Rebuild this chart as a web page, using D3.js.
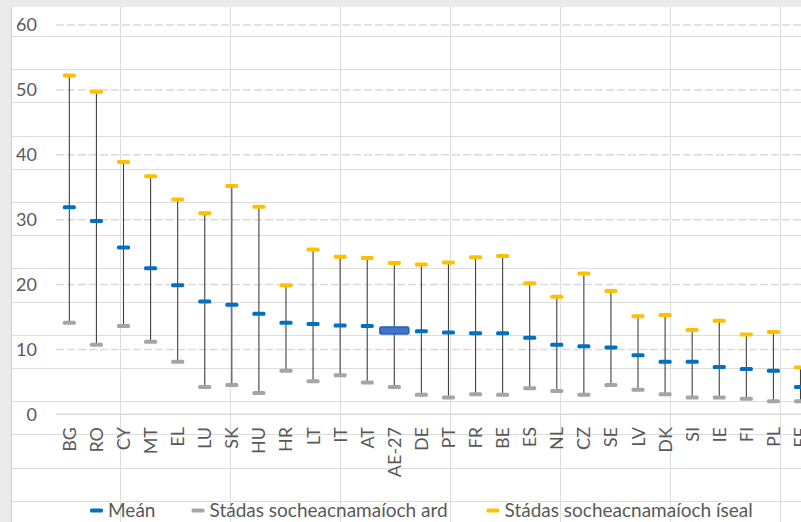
<!DOCTYPE html>
<html><head><meta charset="utf-8">
<script src="https://cdn.jsdelivr.net/npm/d3@7"></script>
<style>body{margin:0;background:#fff;overflow:hidden} svg{display:block;font-family:Lato,"Open Sans",sans-serif}</style>
</head><body><svg id="c" width="801" height="522"></svg>
<script>
const categories = ["BG","RO","CY","MT","EL","LU","SK","HU","HR","LT","IT","AT","AE-27","DE","PT","FR","BE","ES","NL","CZ","SE","LV","DK","SI","IE","FI","PL","EE"];
const meanValues = [31.9,29.8,25.7,22.5,19.9,17.4,16.9,15.5,14.1,13.9,13.7,13.6,12.9,12.8,12.6,12.5,12.5,11.8,10.7,10.5,10.3,9.1,8.1,8.1,7.3,7.0,6.7,4.2];
const highSesValues = [14.1,10.7,13.6,11.2,8.1,4.2,4.5,3.3,6.7,5.1,6.0,4.9,4.2,3.0,2.6,3.1,3.0,4.0,3.6,3.0,4.5,3.8,3.1,2.6,2.6,2.4,2.0,2.0];
const lowSesValues = [52.2,49.7,38.9,36.7,33.1,31.0,35.2,32.0,19.9,25.4,24.3,24.1,23.3,23.1,23.4,24.2,24.4,20.2,18.1,21.7,19.0,15.1,15.3,13.0,14.4,12.3,12.7,7.2];
const yTicks = [0,10,20,30,40,50,60];
const seriesNames = ["Meán","Stádas socheacnamaíoch ard","Stádas socheacnamaíoch íseal"];
const seriesColors = ["#0070C0","#A5A5A5","#FFC000"];
const highlight = "AE-27";

const svg = d3.select("#c");
const W = 801, H = 522;

// spreadsheet background
svg.append("rect").attr("width",W).attr("height",H).attr("fill","#fff");
const bg = svg.append("g");
d3.range(36, H, 33.2).forEach(y=>bg.append("line").attr("x1",11).attr("x2",W).attr("y1",Math.round(y)+0.5).attr("y2",Math.round(y)+0.5).attr("stroke","#dcdcdc"));
d3.range(120.3, W, 110).forEach(x=>bg.append("line").attr("x1",Math.round(x)+0.5).attr("x2",Math.round(x)+0.5).attr("y1",7).attr("y2",H).attr("stroke","#dcdcdc"));
bg.append("rect").attr("x",0).attr("y",0).attr("width",W).attr("height",7).attr("fill","#ebebeb");
bg.append("rect").attr("x",0).attr("y",0).attr("width",11).attr("height",H).attr("fill","#ebebeb");
bg.append("line").attr("x1",11.5).attr("x2",11.5).attr("y1",7).attr("y2",H).attr("stroke","#d0d0d0");

const x = d3.scaleBand().domain(categories).range([55.8, 55.8 + categories.length*27.08]).padding(0);
const y = d3.scaleLinear().domain([0,60]).range([414.3, 25]);

// gridlines
const grid = svg.append("g");
yTicks.filter(t=>t>0).forEach(t=>{
  grid.append("line").attr("x1",56).attr("x2",W).attr("y1",y(t)).attr("y2",y(t))
    .attr("stroke","#d9d9d9").attr("stroke-width",1.5).attr("stroke-dasharray","8,3");
});
grid.append("line").attr("x1",56).attr("x2",W).attr("y1",y(0)).attr("y2",y(0)).attr("stroke","#d9d9d9").attr("stroke-width",1.5);

// y tick labels
const yAxis = d3.axisLeft(y).tickValues(yTicks).tickSize(0).tickPadding(0);
const ya = svg.append("g").attr("transform","translate(37,0)").call(yAxis);
ya.select(".domain").remove();
ya.selectAll("text").attr("fill","#595959").style("font-size","18px").style("font-family","Lato");

// x labels
const xAxis = d3.axisBottom(x).tickSize(0).tickPadding(0);
const xa = svg.append("g").attr("transform","translate(0,427)").call(xAxis);
xa.select(".domain").remove();
xa.selectAll("text").attr("fill","#595959").style("font-size","18px").style("font-family","Lato")
  .attr("transform","rotate(-90)").attr("text-anchor","end").attr("x",0).attr("y",0).attr("dy","0.36em");

// whiskers
const cx = d => x(d) + x.bandwidth()/2;
const g = svg.append("g");
categories.forEach((c,i)=>{
  g.append("line").attr("x1",cx(c)).attr("x2",cx(c)).attr("y1",y(highSesValues[i])).attr("y2",y(lowSesValues[i]))
    .attr("stroke","#404040").attr("stroke-width",1.1);
});
function marker(sel, cxv, cyv, color, w, h){
  sel.append("rect").attr("x",cxv-w/2).attr("y",cyv-h/2).attr("width",w).attr("height",h)
    .attr("rx",1.5).attr("fill",color);
}
categories.forEach((c,i)=>{
  marker(g, cx(c), y(highSesValues[i]), seriesColors[1], 13, 4);
  marker(g, cx(c), y(lowSesValues[i]), seriesColors[2], 13, 4);
  if (c === highlight) {
    g.append("rect").attr("x",cx(c)-14.5).attr("y",y(meanValues[i])-3.5).attr("width",29).attr("height",7)
      .attr("rx",1.5).attr("fill","#4472C4").attr("stroke","#1466BE").attr("stroke-width",1.5);
  } else {
    marker(g, cx(c), y(meanValues[i]), seriesColors[0], 13, 4);
  }
});

// legend
const legX = [90, 191.5, 486.5];
const leg = svg.append("g");
seriesNames.forEach((n,i)=>{
  marker(leg, legX[i]+6.5, 510.5, seriesColors[i], 13, 4);
  leg.append("text").attr("x",legX[i]+18).attr("y",510.5).attr("dy","0.36em")
    .attr("fill","#595959").style("font-size","19px").style("font-family","Lato").text(n);
});
</script></body></html>
